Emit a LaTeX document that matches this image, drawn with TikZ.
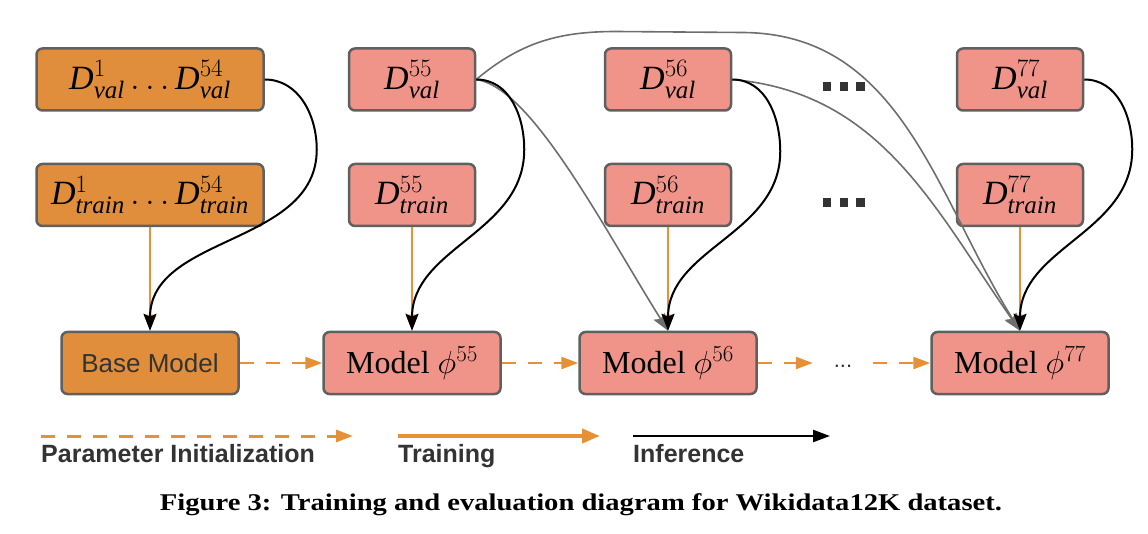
\RequirePackage{fix-cm}
\documentclass[tikz,border=0pt]{standalone}
\usepackage{fontspec}
\setmainfont{Liberation Serif}
\setsansfont{Liberation Sans}
\usepackage{amsmath}
\usepackage{graphicx}
\usetikzlibrary{arrows.meta}
\DeclareMathSizes{34}{34}{25}{19}
\DeclareMathSizes{32}{32}{23}{17}
\definecolor{orfill}{HTML}{E08E3B}
\definecolor{pkfill}{HTML}{F0948A}
\definecolor{bord}{HTML}{606060}
\definecolor{orline}{HTML}{E69138}
\definecolor{grline}{HTML}{6E6E6E}
\definecolor{txt}{HTML}{333333}
\newcommand{\Dd}[2]{\mathit{D}^{#1}_{\mathit{#2}}}
\begin{document}
\begin{tikzpicture}[x=1pt,y=1pt,
  box/.style={draw=bord,line width=2.5pt,rounded corners=6pt,inner sep=0pt,minimum height=62pt},
  obox/.style={box,fill=orfill},
  pbox/.style={box,fill=pkfill},
  dfont/.style={font=\fontsize{34}{40}\selectfont},
  mfont/.style={font=\fontsize{32}{38}\selectfont},
  vwide/.style={minimum width=227pt},
  dnarrow/.style={minimum width=126pt},
  mwide/.style={minimum width=177pt},
  inf/.style={draw=black,line width=2pt,-{Stealth[length=17pt,width=13pt,inset=3pt]}},
  gry/.style={draw=grline,line width=1.6pt,-{Stealth[length=17pt,width=13pt,inset=3pt]}},
  trn/.style={draw=orline,line width=1.6pt,-{Triangle[length=16pt,width=12pt]}},
  ini/.style={draw=orline,line width=2.5pt,dash pattern=on 14pt off 12pt,-{Triangle[length=17pt,width=12pt]}},
  legtxt/.style={font=\sffamily\bfseries\fontsize{25}{30}\selectfont,text=txt,anchor=base west,inner sep=0pt},
  sqc/.style={fill=txt},
]
\useasboundingbox (0,0) rectangle (1148,-534);

% column 1
\node[obox,vwide,dfont] (V1) at (150,-79.5) {$\Dd{1}{val}\ldots\Dd{54}{val}$};
\node[obox,vwide,dfont] (T1) at (150,-195) {$\Dd{1}{train}\ldots\Dd{54}{train}$};
\node[obox,minimum width=177pt,font=\sffamily\fontsize{26}{30}\selectfont,text=txt] (B) at (150,-363) {Base Model};

% column 55
\node[pbox,dnarrow,dfont] (V55) at (412,-79.5) {$\Dd{55}{val}$};
\node[pbox,dnarrow,dfont] (T55) at (412,-195) {$\Dd{55}{train}$};
\node[pbox,mwide,mfont] (M55) at (412,-363) {Model $\phi^{55}$};

% column 56
\node[pbox,dnarrow,dfont] (V56) at (668,-79.5) {$\Dd{56}{val}$};
\node[pbox,dnarrow,dfont] (T56) at (668,-195) {$\Dd{56}{train}$};
\node[pbox,mwide,mfont] (M56) at (668,-363) {Model $\phi^{56}$};

% column 77
\node[pbox,dnarrow,dfont] (V77) at (1020,-79.5) {$\Dd{77}{val}$};
\node[pbox,dnarrow,dfont] (T77) at (1020,-195) {$\Dd{77}{train}$};
\node[pbox,mwide,mfont] (M77) at (1020,-363) {Model $\phi^{77}$};

% ellipsis squares
\foreach \xx in {822.5,839.5,856} {
  \fill[sqc] (\xx,-82) rectangle ++(8.5,-9);
  \fill[sqc] (\xx,-198) rectangle ++(8.5,-9);
}
\node[font=\sffamily\fontsize{22}{22}\selectfont,text=txt,inner sep=0pt,minimum width=60pt,text height=3pt,text depth=0pt] (dd) at (843,-366) {...};

% training arrows
\draw[trn] (T1.south) -- (B.north);
\draw[trn] (T55.south) -- (M55.north);
\draw[trn] (T56.south) -- (M56.north);
\draw[trn] (T77.south) -- (M77.north);

% parameter initialization arrows
\draw[ini] (B.east) -- (M55.west);
\draw[ini] (M55.east) -- (M56.west);
\draw[ini] (M56.east) -- (M56.east -| dd.west);
\draw[ini] (M77.west -| dd.east) -- (M77.west);

% gray inference arrows
\draw[gry] (V55.east) to[out=-8,in=122,out looseness=0.45] (M56.north);
\draw[gry] (V55.east) to[out=40,in=180] ++(140,48) -- ++(125,-1) to[out=0,in=122] (M77.north);
\draw[gry] (V56.east) to[out=-5,in=125] (M77.north);

% black inference arrows
\draw[inf] (V1.east) to[out=0,in=90] ++(52,-70) to[out=-90,in=90] (B.north);
\draw[inf] (V55.east) to[out=0,in=90] ++(48,-70) to[out=-90,in=90] (M55.north);
\draw[inf] (V56.east) to[out=0,in=90] ++(48,-72) to[out=-90,in=90] (M56.north);
\draw[inf] (V77.east) to[out=0,in=90] ++(48,-70) to[out=-90,in=90] (M77.north);

% legend
\coordinate (la) at (41,-436);
\coordinate (lb) at (353,-436);
\coordinate (lc) at (398,-436);
\coordinate (ld) at (600,-436);
\coordinate (le) at (633,-436);
\coordinate (lf) at (830,-436);
\draw[ini,line width=3pt] (la) -- (lb);
\draw[draw=orline,line width=4pt,-{Triangle[length=18pt,width=14pt]}] (lc) -- (ld);
\draw[draw=black,line width=2.5pt,-{Triangle[length=17pt,width=12pt]}] (le) -- (lf);
\node[legtxt] (lt1) at (41,-462) {Parameter Initialization};
\node[legtxt] (lt2) at (398,-462) {Training};
\node[legtxt] (lt3) at (633,-462) {Inference};

% caption
\node[anchor=base,inner sep=0pt,font=\bfseries\fontsize{24}{28}\selectfont] (cap) at (581,-510)
  {\resizebox{842pt}{\height}{Figure 3: Training and evaluation diagram for Wikidata12K dataset.}};
\end{tikzpicture}
\end{document}
